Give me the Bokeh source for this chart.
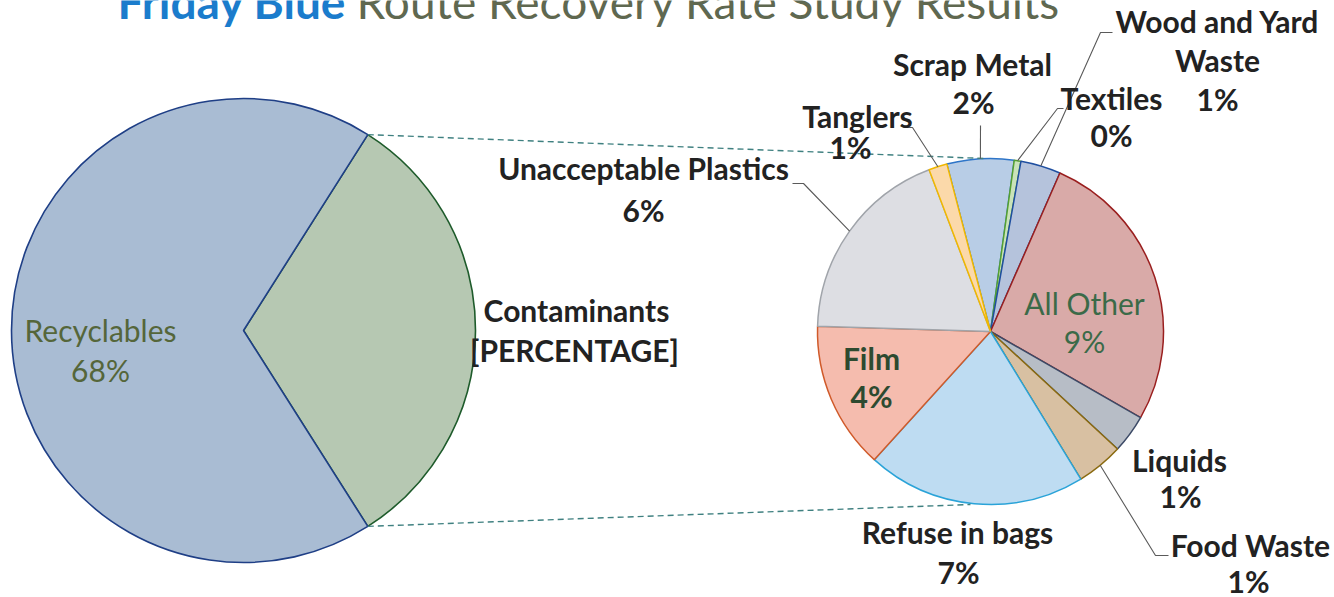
import math
from bokeh.plotting import figure
from bokeh.models import Range1d, ColumnDataSource
from bokeh.core.properties import value
from bokeh.embed import file_html
from bokeh.resources import INLINE

# ---------------- data ----------------
title_parts = ["Friday Blue", "Route Recovery Rate Study Results"]

main_labels = ["Contaminants", "Recyclables"]
main_values = [32, 68]
main_value_text = ["[PERCENTAGE]", f"{main_values[1]}%"]

sub_labels = ["Scrap Metal", "Textiles", "Wood and Yard Waste", "All Other", "Liquids",
              "Food Waste", "Refuse in bags", "Film", "Unacceptable Plastics", "Tanglers"]
sub_values = [2.0, 0.2, 1.2, 8.55, 1.15, 1.4, 6.55, 4.4, 6.0, 0.55]

# ---------------- styles / layout ----------------
W, H = 1334, 597
def Y(img_y):
    return H - img_y

main_fill = ["#b6c8b2", "#a9bcd3"]
main_line = ["#1e5b2b", "#1f3f86"]
sub_fill = ["#b8cde6", "#c9e3b9", "#b5c3dc", "#d9aaa8", "#b7bdc6",
            "#d8c0a2", "#bedcf2", "#f5bcae", "#dddee3", "#fbd9aa"]
sub_line = ["#2e75c8", "#55a030", "#1f4fa0", "#9a1f1f", "#3c4a66",
            "#8a6a10", "#2aa3d8", "#d05a2a", "#a0a4aa", "#f0b800"]

L_CX, L_CY, L_R = 243, Y(330), 232
R_CX, R_CY, R_R = 990, Y(331), 173
R_START = -14.6  # degrees clockwise from 12 o'clock

FONT = value("Lato")
FS = 30
LINE_GAP = 39
TXT_SHIFT = 0.43   # renderer baseline correction, fraction of font size

wrap = {"Wood and Yard Waste": "Wood and Yard\nWaste"}
# (name_x, name_baseline_img_y, pct_x, pct_baseline_img_y, color, style)
sub_label_layout = {
    "Scrap Metal": (972, 76, 973, 114, "#222222", "bold"),
    "Textiles": (1111, 110, 1111, 147, "#222222", "bold"),
    "Wood and Yard Waste": (1217, 33, 1217, 111, "#222222", "bold"),
    "All Other": (1084, 315, 1084, 353, "#3b6a48", "normal"),
    "Liquids": (1179, 472, 1180, 508, "#222222", "bold"),
    "Food Waste": (1250, 557, 1248, 593, "#222222", "bold"),
    "Refuse in bags": (957, 544, 958, 584, "#222222", "bold"),
    "Film": (871, 370, 871, 408, "#2d4a30", "bold"),
    "Unacceptable Plastics": (643, 180, 643, 222, "#222222", "bold"),
    "Tanglers": (857, 128, 850, 159, "#222222", "bold"),
}
main_label_layout = {
    "Recyclables": (100, 342, 100, 382, "#55663a", "normal"),
    "Contaminants": (576, 322, 574, 362, "#222222", "bold"),
}
leader_elbows = {
    "Scrap Metal": [(980, 125)],
    "Textiles": [(1063, 108), (1057, 108)],
    "Wood and Yard Waste": [(1112, 32), (1100, 32)],
    "Tanglers": [(903, 127), (912, 127)],
    "Unacceptable Plastics": [(792, 183), (803, 183)],
    "Food Waste": [(1168, 555), (1155, 555)],
}

p = figure(width=W, height=H, output_backend="svg", toolbar_location=None,
           x_range=Range1d(0, W), y_range=Range1d(0, H),
           min_border=0, background_fill_color="white", border_fill_color="white")
p.axis.visible = False
p.grid.visible = False
p.outline_line_color = None

# ---------------- main pie ----------------
total_main = sum(main_values)
half = main_values[0] / total_main * math.pi
starts, ends = [], []
a = -half
for v in main_values:
    starts.append(a)
    a += v / total_main * 2 * math.pi
    ends.append(a)
msrc = ColumnDataSource(dict(start=starts, end=ends, fill=main_fill, line=main_line))
p.wedge(x=L_CX, y=L_CY, radius=L_R, start_angle="start", end_angle="end",
        fill_color="fill", line_color="line", line_width=1.6, source=msrc)

# ---------------- sub pie ----------------
total_sub = sum(sub_values)
theta = R_START
s_start, s_end, mids = [], [], []
for v in sub_values:
    t0 = theta
    t1 = theta + v / total_sub * 360.0
    s_start.append(math.radians(90 - t0))
    s_end.append(math.radians(90 - t1))
    mids.append((t0 + t1) / 2)
    theta = t1
ssrc = ColumnDataSource(dict(start=s_start, end=s_end, fill=sub_fill, line=sub_line))
p.wedge(x=R_CX, y=R_CY, radius=R_R, start_angle="start", end_angle="end",
        direction="clock", fill_color="fill", line_color="line", line_width=1.5,
        source=ssrc)

# ---------------- connectors ----------------
ex = L_CX + L_R * math.cos(half)
ey_top = L_CY + L_R * math.sin(half)
ey_bot = L_CY - L_R * math.sin(half)
p.multi_line(xs=[[ex, R_CX - 6], [ex, R_CX - 20]],
             ys=[[ey_top, R_CY + R_R], [ey_bot, R_CY - R_R]],
             line_color="#3f8080", line_width=1.4, line_dash="6 4")

# ---------------- leader lines ----------------
lxs, lys = [], []
for name, elbows in leader_elbows.items():
    i = sub_labels.index(name)
    t = math.radians(mids[i])
    px = R_CX + R_R * math.sin(t)
    py = R_CY + R_R * math.cos(t)
    lxs.append([e[0] for e in elbows] + [px])
    lys.append([Y(e[1]) for e in elbows] + [py])
p.multi_line(xs=lxs, ys=lys, line_color="#5a5a5a", line_width=1.1)

# ---------------- labels ----------------
def draw_text(xs, img_ys, texts, size, style, color, align="center"):
    p.text(x=xs, y=[Y(v - TXT_SHIFT * size) for v in img_ys], text=texts,
           text_align=align, text_baseline="alphabetic", text_font=FONT,
           text_font_size=f"{size}px", text_font_style=style, text_color=color)

def draw_label(name, pct, lay):
    nx, ny, px_, py_, col, sty = lay
    lines = wrap.get(name, name).split("\n")
    xs = [nx] * len(lines) + [px_]
    ys = [ny + k * LINE_GAP for k in range(len(lines))] + [py_]
    draw_text(xs, ys, lines + [pct], FS, sty, col)

for name, v in zip(sub_labels, sub_values):
    draw_label(name, f"{round(v)}%", sub_label_layout[name])
for name, txt in zip(main_labels, main_value_text):
    draw_label(name, txt, main_label_layout[name])

# ---------------- title ----------------
draw_text([117], [21], [title_parts[0]], 46, "bold", "#1b7ccc", align="left")
draw_text([356], [21], [title_parts[1]], 46, "normal", "#5f6850", align="left")

open("out.html", "w").write(file_html(p, INLINE))
